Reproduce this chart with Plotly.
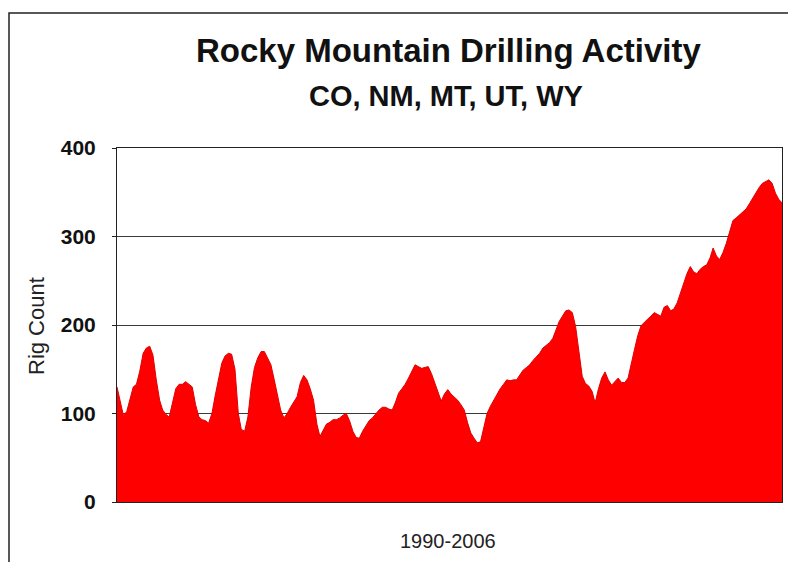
import pandas as pd
import plotly.graph_objects as go

# Monthly rig count, Rocky Mountain region (CO, NM, MT, UT, WY), Jan 1990 - Dec 2006
months = pd.date_range("1990-01-01", periods=204, freq="MS")
rig_count = [
    130, 112, 98, 102, 115, 130, 133, 148, 168, 174, 176, 166,   # 1990
    138, 115, 104, 99, 96, 112, 128, 133, 133, 136, 133, 130,    # 1991
    110, 96, 93, 92, 89, 100, 120, 140, 157, 165, 168, 167,      # 1992
    150, 100, 82, 80, 96, 130, 152, 163, 170, 170, 162, 155,     # 1993
    138, 122, 104, 95, 100, 107, 113, 119, 135, 143, 138, 128,   # 1994
    115, 88, 74, 82, 88, 90, 93, 93, 95, 98, 100, 92,            # 1995
    80, 73, 72, 80, 86, 92, 95, 100, 104, 107, 107, 105,         # 1996
    104, 113, 123, 128, 133, 140, 147, 155, 153, 151, 152, 153,  # 1997
    145, 135, 125, 114, 122, 127, 122, 119, 115, 110, 104, 90,   # 1998
    78, 72, 67, 68, 85, 100, 108, 115, 122, 128, 133, 138,       # 1999
    137, 138, 138, 143, 149, 152, 155, 160, 164, 168, 174, 177,  # 2000
    180, 185, 194, 204, 210, 216, 217, 214, 198, 170, 142, 134,  # 2001
    131, 125, 112, 128, 140, 147, 138, 132, 136, 140, 135, 135,  # 2002
    140, 155, 172, 188, 199, 203, 206, 210, 214, 212, 210, 220,  # 2003
    222, 216, 218, 225, 236, 248, 258, 266, 260, 258, 263, 266,  # 2004
    268, 276, 287, 278, 274, 282, 292, 305, 318, 321, 324, 327,  # 2005
    331, 337, 343, 349, 355, 360, 362, 364, 360, 349, 342, 338,  # 2006
]

y_ticks = [0, 100, 200, 300, 400]
y_tick_text = ["<b>%d</b>" % v for v in y_ticks]

title_text = "<b>Rocky Mountain Drilling Activity</b>"
subtitle_text = "<b>CO, NM, MT, UT, WY</b>"
x_title = "1990-2006"
y_title = "Rig Count"

FONT = "Liberation Sans, Arial, sans-serif"

fig = go.Figure()
fig.add_trace(go.Scatter(
    x=months, y=rig_count,
    mode="lines", fill="tozeroy",
    line=dict(color="#e00000", width=1),
    fillcolor="#ff0000",
    hoverinfo="x+y",
    showlegend=False,
))

W, H = 788, 562
L, R, T, B = 117, 6, 148, 60
pw, ph = W - L - R, H - T - B

def px_x(x):
    return (x - L) / pw

def px_y(y):
    return (H - B - y) / ph

fig.update_layout(
    width=W, height=H,
    margin=dict(l=L, r=R, t=T, b=B, pad=0),
    paper_bgcolor="white", plot_bgcolor="white",
    font=dict(family=FONT, color="#111"),
    xaxis=dict(
        range=[months[0], months[-1]],
        showticklabels=False, ticks="", showgrid=False, zeroline=False,
        showline=True, linecolor="#222", linewidth=1, mirror=True,
    ),
    yaxis=dict(
        range=[0, 400], tickvals=y_ticks, ticktext=y_tick_text,
        tickfont=dict(size=21, family=FONT, color="#111"),
        ticks="outside", ticklen=4, tickcolor="#222",
        ticklabelstandoff=12,
        showgrid=True, gridcolor="#3a3a3a", gridwidth=1, zeroline=False,
        showline=True, linecolor="#222", linewidth=1, mirror=True,
    ),
    annotations=[
        dict(text=title_text, xref="paper", yref="paper", x=px_x(448), y=px_y(50.5),
             xanchor="center", yanchor="middle", showarrow=False,
             font=dict(size=33, family=FONT, color="#111")),
        dict(text=subtitle_text, xref="paper", yref="paper", x=px_x(446), y=px_y(96),
             xanchor="center", yanchor="middle", showarrow=False,
             font=dict(size=29, family=FONT, color="#111")),
        dict(text=x_title, xref="paper", yref="paper", x=px_x(447.5), y=px_y(541),
             xanchor="center", yanchor="middle", showarrow=False,
             font=dict(size=20, family=FONT, color="#222")),
        dict(text=y_title, xref="paper", yref="paper", x=px_x(36), y=px_y(326),
             xanchor="center", yanchor="middle", showarrow=False, textangle=-90,
             font=dict(size=22, family=FONT, color="#222")),
    ],
    shapes=[
        dict(type="rect", xref="paper", yref="paper",
             x0=px_x(9), x1=px_x(820), y0=px_y(600), y1=px_y(13),
             line=dict(color="#222", width=1.5), fillcolor="rgba(0,0,0,0)", layer="above"),
    ],
)

fig.write_html("out.html")
